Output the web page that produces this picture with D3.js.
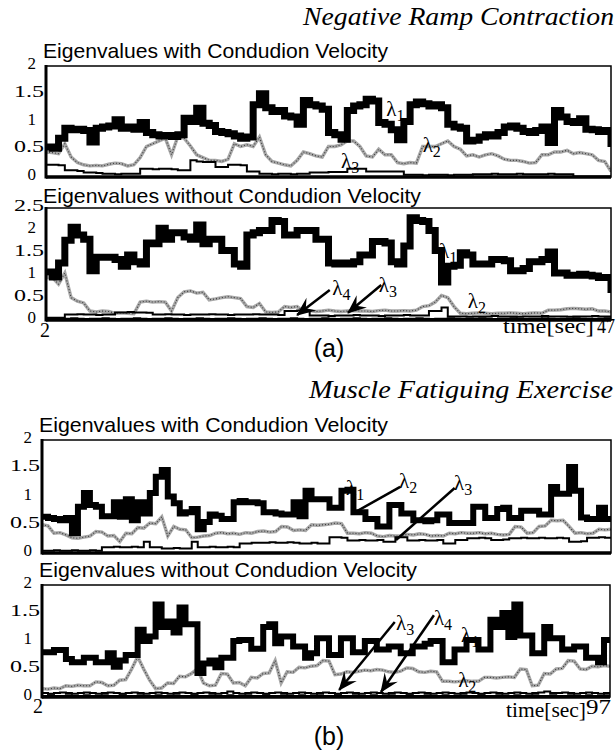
<!DOCTYPE html>
<html>
<head>
<meta charset="utf-8">
<script src="https://cdn.jsdelivr.net/npm/d3@7.9.0/dist/d3.min.js"></script>
<style>
  body { margin: 0; background: #fff; }
  svg { display: block; }
  .serif { font-family: "Liberation Serif", "Times New Roman", serif; }
  .sans { font-family: "Liberation Sans", Arial, sans-serif; }
</style>
</head>
<body>
<svg id="fig" width="616" height="753"></svg>
<script>
// ------------------- Data -------------------
const spanA = [2, 47];
const spanB = [2, 97];
const ticks2 = [0, 0.5, 1, 1.5, 2];
const ticks25 = [0, 0.5, 1, 1.5, 2, 2.5];

// (a) Negative ramp contraction, with conduction velocity
const a1L1 = [0.54,0.52,0.7,0.88,0.85,0.86,0.84,0.63,0.88,0.9,0.92,1.03,0.88,0.9,0.86,0.98,0.8,0.76,0.74,0.75,
  0.73,0.76,1.06,1.0,1.24,0.97,0.93,0.82,0.8,0.78,0.74,0.7,0.72,1.3,1.5,1.25,1.18,1.2,1.1,1.08,
  0.95,1.38,1.3,1.28,1.22,0.8,0.76,0.68,1.2,1.28,1.3,1.4,1.37,0.98,0.95,0.85,0.67,1.0,1.3,1.35,
  1.32,1.28,1.3,1.25,0.95,0.9,0.88,0.65,0.66,0.72,0.76,0.74,0.8,0.9,0.92,0.88,0.82,0.8,0.84,0.9,
  0.62,1.2,1.08,1.0,0.98,1.05,0.86,0.85,0.82,0.84,0.54];
const a1L2 = [0.45,0.44,0.42,0.6,0.36,0.26,0.22,0.2,0.21,0.2,0.23,0.25,0.24,0.2,0.22,0.35,0.55,0.6,0.65,0.7,
  0.4,0.73,0.7,0.56,0.4,0.35,0.3,0.3,0.28,0.32,0.6,0.55,0.58,0.55,0.72,0.4,0.28,0.25,0.22,0.2,
  0.3,0.45,0.42,0.38,0.36,0.55,0.55,0.58,0.65,0.65,0.55,0.38,0.36,0.5,0.4,0.4,0.26,0.24,0.26,0.25,
  0.55,0.55,0.55,0.6,0.65,0.55,0.5,0.38,0.4,0.36,0.4,0.42,0.38,0.32,0.3,0.3,0.28,0.25,0.26,0.4,
  0.4,0.45,0.45,0.48,0.42,0.44,0.42,0.4,0.3,0.28,0.1];
const a1L3 = [0.22,0.22,0.21,0.12,0.12,0.11,0.08,0.08,0.07,0.06,0.06,0.05,0.06,0.06,0.06,0.15,0.15,0.14,0.15,0.15,
  0.14,0.12,0.12,0.3,0.28,0.27,0.27,0.18,0.18,0.22,0.22,0.21,0.1,0.1,0.06,0.06,0.05,0.06,0.06,0.05,
  0.06,0.06,0.08,0.08,0.08,0.09,0.09,0.09,0.15,0.15,0.15,0.1,0.1,0.1,0.1,0.1,0.1,0.04,0.04,0.04,
  0.03,0.04,0.04,0.04,0.03,0.04,0.04,0.04,0.05,0.05,0.05,0.06,0.05,0.05,0.05,0.06,0.05,0.05,0.05,0.05,
  0.06,0.05,0.05,0.05,0.01,0.01,0.01,0.01,0.01,0.01,0.01];

// (a) without conduction velocity
const a2L1 = [1.07,0.96,1.27,1.78,2.07,1.9,1.8,1.1,1.4,1.4,1.4,1.35,1.2,1.45,1.3,1.25,1.72,1.7,2.05,1.8,
  1.95,1.95,1.85,1.8,2.12,1.7,1.8,1.8,1.55,1.55,1.25,1.2,1.9,1.95,2.0,2.0,2.22,2.2,1.9,1.9,
  2.0,2.0,2.0,1.8,1.8,1.27,1.25,1.27,1.25,1.3,1.45,1.45,1.75,1.75,1.72,1.3,1.25,1.65,2.28,2.22,
  2.2,2.0,1.55,0.85,1.2,1.22,1.5,1.45,1.25,1.25,1.25,1.35,1.35,1.32,1.1,1.1,1.15,1.3,1.3,1.35,
  1.52,1.05,1.05,1.0,1.0,1.02,1.0,0.98,0.95,0.95,0.6];
const a2L2 = [0.95,0.95,0.8,1.05,0.5,0.42,0.38,0.2,0.18,0.2,0.19,0.15,0.16,0.15,0.14,0.4,0.42,0.4,0.41,0.4,
  0.2,0.5,0.63,0.65,0.6,0.62,0.45,0.47,0.5,0.52,0.5,0.48,0.3,0.28,0.37,0.18,0.17,0.18,0.3,0.28,
  0.3,0.2,0.21,0.19,0.2,0.22,0.2,0.19,0.2,0.21,0.2,0.2,0.19,0.21,0.22,0.2,0.2,0.21,0.2,0.22,
  0.3,0.32,0.4,0.55,0.5,0.3,0.15,0.14,0.15,0.16,0.15,0.14,0.15,0.15,0.16,0.15,0.14,0.15,0.16,0.15,
  0.22,0.22,0.23,0.25,0.26,0.25,0.24,0.25,0.2,0.2,0.18];
const a2L3 = [0.05,0.05,0.05,0.12,0.12,0.13,0.12,0.12,0.11,0.12,0.12,0.17,0.17,0.18,0.17,0.17,0.16,0.12,0.12,0.13,
  0.12,0.12,0.11,0.12,0.12,0.12,0.13,0.12,0.12,0.11,0.12,0.12,0.12,0.13,0.12,0.12,0.12,0.11,0.2,0.2,
  0.21,0.2,0.1,0.1,0.1,0.09,0.1,0.1,0.1,0.11,0.1,0.1,0.1,0.09,0.1,0.1,0.1,0.11,0.1,0.1,
  0.1,0.2,0.2,0.28,0.08,0.08,0.08,0.07,0.08,0.08,0.08,0.09,0.08,0.08,0.08,0.07,0.08,0.08,0.08,0.09,
  0.08,0.08,0.08,0.07,0.08,0.08,0.08,0.09,0.08,0.08,0.08];
const a2L4 = [0.03,0.02,0.03,0.03,0.04,0.03,0.02,0.03,0.03,0.04,0.03,0.02,0.03,0.03,0.04,0.03,0.02,0.03,0.03,0.04,
  0.03,0.02,0.03,0.03,0.04,0.03,0.02,0.03,0.03,0.04,0.03,0.02,0.03,0.03,0.04,0.03,0.02,0.03,0.03,0.04,
  0.03,0.02,0.03,0.03,0.04,0.03,0.02,0.03,0.03,0.04,0.03,0.02,0.03,0.03,0.04,0.03,0.02,0.03,0.03,0.04,
  0.03,0.02,0.03,0.03,0.04,0.03,0.02,0.03,0.03,0.04,0.03,0.02,0.03,0.03,0.04,0.03,0.02,0.03,0.03,0.04,
  0.03,0.02,0.03,0.03,0.04,0.03,0.02,0.03,0.03,0.04,0.03];

// (b) Muscle fatiguing exercise, with conduction velocity
const b1L1 = [0.64,0.62,0.6,0.58,0.62,0.35,0.82,1.06,0.85,0.82,0.65,0.65,0.9,0.64,0.95,0.58,0.9,0.7,1.06,1.35,
  1.47,1.0,0.88,0.7,0.72,0.78,0.42,0.55,0.68,0.66,0.6,0.6,0.9,0.92,0.9,0.9,0.88,0.72,0.72,0.7,
  0.68,0.68,0.9,0.65,1.1,0.95,0.95,0.95,0.8,0.8,1.1,1.12,0.72,0.72,0.6,0.6,0.47,0.47,0.85,0.85,
  0.7,0.7,0.58,0.58,0.56,0.58,0.68,0.68,0.53,0.53,0.53,0.53,0.82,0.82,0.62,0.62,0.78,0.8,0.62,0.62,
  0.75,0.75,0.75,0.68,0.68,1.17,1.05,1.05,1.52,1.1,0.63,0.6,0.6,0.8,0.6,0.6];
const b1L2 = [0.5,0.48,0.35,0.36,0.32,0.27,0.26,0.28,0.3,0.38,0.37,0.3,0.31,0.2,0.35,0.34,0.45,0.44,0.53,0.52,
  0.64,0.3,0.47,0.42,0.41,0.27,0.28,0.3,0.31,0.35,0.36,0.34,0.35,0.33,0.36,0.35,0.38,0.39,0.37,0.38,
  0.47,0.46,0.4,0.41,0.4,0.5,0.49,0.5,0.51,0.53,0.52,0.35,0.35,0.34,0.36,0.35,0.3,0.29,0.31,0.3,
  0.3,0.33,0.32,0.34,0.33,0.3,0.31,0.3,0.35,0.34,0.36,0.35,0.35,0.36,0.34,0.35,0.33,0.32,0.33,0.47,
  0.46,0.35,0.36,0.47,0.48,0.58,0.57,0.58,0.47,0.35,0.36,0.34,0.35,0.42,0.41,0.42];
const b1L3 = [0.04,0.04,0.05,0.04,0.04,0.05,0.04,0.04,0.05,0.04,0.1,0.1,0.11,0.1,0.1,0.11,0.1,0.2,0.1,0.1,
  0.08,0.08,0.09,0.08,0.08,0.2,0.1,0.1,0.11,0.1,0.1,0.11,0.1,0.17,0.17,0.18,0.18,0.18,0.19,0.18,
  0.18,0.19,0.18,0.17,0.17,0.18,0.17,0.17,0.28,0.28,0.27,0.22,0.22,0.23,0.22,0.22,0.23,0.2,0.2,0.28,
  0.28,0.22,0.22,0.23,0.22,0.22,0.23,0.17,0.17,0.23,0.23,0.26,0.26,0.27,0.26,0.23,0.23,0.24,0.26,0.26,
  0.27,0.26,0.26,0.27,0.26,0.26,0.27,0.26,0.2,0.2,0.21,0.27,0.27,0.28,0.27,0.27];

// (b) without conduction velocity
const b2L1 = [0.8,0.8,0.84,0.84,0.68,0.62,0.62,0.7,0.7,0.62,0.62,0.78,0.54,0.65,0.75,0.75,1.2,1.0,1.08,1.65,
  1.25,1.35,1.15,1.6,1.3,1.3,0.43,0.6,0.65,0.53,0.7,0.7,1.0,1.02,1.02,0.86,0.86,1.25,1.3,0.96,
  1.08,1.08,0.9,0.9,0.7,0.78,1.05,1.05,0.75,0.75,1.05,1.05,0.8,0.8,1.0,1.0,0.85,0.85,0.9,0.9,
  0.78,0.78,0.9,0.9,0.95,1.0,1.0,0.62,0.62,0.85,0.85,1.02,1.02,0.85,0.85,1.38,1.25,1.5,1.07,1.65,
  1.1,1.1,0.78,0.78,1.25,1.05,1.05,0.85,0.85,0.9,0.9,0.7,0.7,0.62,1.02,1.02];
const b2L2 = [0.15,0.14,0.16,0.15,0.2,0.19,0.21,0.2,0.2,0.27,0.26,0.2,0.21,0.3,0.31,0.5,0.72,0.5,0.3,0.15,
  0.16,0.25,0.24,0.37,0.36,0.42,0.5,0.25,0.2,0.21,0.42,0.41,0.25,0.26,0.2,0.35,0.34,0.42,0.43,0.65,
  0.25,0.45,0.44,0.53,0.52,0.55,0.56,0.65,0.64,0.4,0.41,0.45,0.44,0.46,0.48,0.47,0.49,0.48,0.45,0.44,
  0.46,0.52,0.51,0.45,0.44,0.46,0.45,0.28,0.28,0.27,0.28,0.29,0.28,0.28,0.35,0.35,0.34,0.35,0.36,0.35,
  0.5,0.49,0.2,0.21,0.42,0.41,0.5,0.51,0.65,0.64,0.5,0.49,0.55,0.54,0.56,0.55];
const b2L3 = [0.07,0.06,0.07,0.08,0.07,0.06,0.07,0.08,0.07,0.06,0.07,0.08,0.07,0.06,0.07,0.08,0.07,0.06,0.07,0.08,
  0.07,0.06,0.07,0.08,0.07,0.06,0.07,0.08,0.07,0.06,0.07,0.1,0.07,0.06,0.07,0.08,0.07,0.06,0.07,0.08,
  0.07,0.06,0.07,0.08,0.07,0.06,0.07,0.08,0.07,0.06,0.07,0.08,0.07,0.06,0.07,0.08,0.07,0.06,0.07,0.08,
  0.07,0.06,0.07,0.08,0.07,0.06,0.07,0.08,0.07,0.06,0.07,0.08,0.07,0.06,0.07,0.08,0.07,0.06,0.07,0.08,
  0.07,0.06,0.07,0.08,0.1,0.07,0.07,0.08,0.07,0.06,0.07,0.08,0.07,0.06,0.07,0.08];
const b2L4 = [0.02,0.03,0.02,0.02,0.03,0.02,0.02,0.03,0.02,0.02,0.03,0.02,0.02,0.03,0.02,0.02,0.03,0.02,0.02,0.03,
  0.02,0.02,0.03,0.02,0.02,0.03,0.02,0.02,0.03,0.02,0.02,0.03,0.02,0.02,0.03,0.02,0.02,0.03,0.02,0.02,
  0.03,0.02,0.02,0.03,0.02,0.02,0.03,0.02,0.02,0.03,0.02,0.02,0.03,0.02,0.02,0.03,0.02,0.02,0.03,0.02,
  0.02,0.03,0.02,0.02,0.03,0.02,0.02,0.03,0.02,0.02,0.03,0.02,0.02,0.03,0.02,0.02,0.03,0.02,0.02,0.03,
  0.02,0.02,0.03,0.02,0.02,0.03,0.02,0.02,0.03,0.02,0.02,0.03,0.02,0.02,0.03,0.02];

// annotations, in data units (time, eigenvalue)
const a1Labels = [{t: 29.1, v: 1.1, n: '1'}, {t: 32.0, v: 0.45, n: '2'}, {t: 25.5, v: 0.16, n: '3'}];
const a2Labels = [{t: 33.3, v: 1.38, n: '1'}, {t: 24.8, v: 0.56, n: '4'}, {t: 28.5, v: 0.63, n: '3'}, {t: 35.6, v: 0.27, n: '2'}];
const a2Arrows = [{t0: 24.6, v0: 0.67, t1: 22.0, v1: 0.11}, {t0: 28.7, v0: 0.78, t1: 26.05, v1: 0.16}];
const b1Labels = [{t: 52.75, v: 1.03, n: '1'}, {t: 61.6, v: 1.15, n: '2'}, {t: 70.8, v: 1.12, n: '3'}];
const b1Leaders = [{t0: 61.8, v0: 1.17, t1: 54.4, v1: 0.73}, {t0: 70.9, v0: 1.15, t1: 61.1, v1: 0.23}];
const b2Labels = [{t: 61.2, v: 1.2, n: '3'}, {t: 67.55, v: 1.29, n: '4'}, {t: 72.1, v: 0.98, n: '1'}, {t: 71.6, v: 0.18, n: '2'}];
const b2Arrows = [{t0: 61.0, v0: 1.34, t1: 51.7, v1: 0.125}, {t0: 67.55, v0: 1.46, t1: 58.7, v1: 0.09}];

// ------------------- Panels -------------------
const panels = [
  {id: 'a1', box: {left: 46, right: 611, top: 66, bottom: 177}, span: spanA, yMax: 2, ticks: ticks2,
   title: 'Eigenvalues with Condudion Velocity', titleW: 345, titleY: 58, thick: 7,
   series: [[a1L2, 'gray'], [a1L3, 'thin'], [a1L1, 'thick']], labels: a1Labels, arrows: [], leaders: []},
  {id: 'a2', box: {left: 46, right: 611, top: 208, bottom: 320}, span: spanA, yMax: 2.5, ticks: ticks25,
   title: 'Eigenvalues without Condudion Velocity', titleW: 378, titleY: 203, thick: 7,
   series: [[a2L2, 'gray'], [a2L3, 'thin'], [a2L4, 'thin'], [a2L1, 'thick']], labels: a2Labels, arrows: a2Arrows, leaders: []},
  {id: 'b1', box: {left: 42, right: 611, top: 440, bottom: 553}, span: spanB, yMax: 2, ticks: ticks2,
   title: 'Eigenvalues with Condudion Velocity', titleW: 349, titleY: 432, thick: 6,
   series: [[b1L2, 'gray'], [b1L3, 'thin'], [b1L1, 'thick']], labels: b1Labels, arrows: [], leaders: b1Leaders},
  {id: 'b2', box: {left: 42, right: 610, top: 585, bottom: 697}, span: spanB, yMax: 2, ticks: ticks2,
   title: 'Eigenvalues without Condudion Velocity', titleW: 378, titleY: 577, thick: 6,
   series: [[b2L2, 'gray'], [b2L3, 'thin'], [b2L4, 'thin'], [b2L1, 'thick']], labels: b2Labels, arrows: b2Arrows, leaders: []}
];

const svg = d3.select('#fig');
const defs = svg.append('defs');

defs.append('marker')
  .attr('id', 'head')
  .attr('markerUnits', 'userSpaceOnUse')
  .attr('viewBox', '-19 -9 21 18')
  .attr('markerWidth', 21).attr('markerHeight', 18)
  .attr('refX', 0).attr('refY', 0)
  .attr('orient', 'auto')
  .append('path')
  .attr('d', 'M1,0 L-18,-8 L-11,0 L-18,8 Z')
  .attr('fill', '#000');

function drawPanel(p) {
  const b = p.box;
  const x = d3.scaleLinear().domain(p.span).range([b.left, b.right]);
  const y = d3.scaleLinear().domain([0, p.yMax]).range([b.bottom, b.top]);
  const g = svg.append('g').attr('class', 'panel-' + p.id);

  defs.append('clipPath').attr('id', 'clip-' + p.id)
    .append('rect')
    .attr('x', b.left).attr('y', b.top - 2)
    .attr('width', b.right - b.left).attr('height', b.bottom - b.top + 2);

  // panel caption
  g.append('text')
    .attr('class', 'sans')
    .attr('x', b.left - 3).attr('y', p.titleY)
    .attr('font-size', 21)
    .attr('textLength', p.titleW).attr('lengthAdjust', 'spacingAndGlyphs')
    .text(p.title);

  // series
  const plot = g.append('g').attr('clip-path', `url(#clip-${p.id})`);
  p.series.forEach(([vals, kind]) => {
    const idx = d3.scaleLinear().domain([0, vals.length - 1]).range(p.span);
    const line = d3.line()
      .x((d, i) => x(idx(i)))
      .y(d => y(d))
      .curve(kind === 'gray' ? d3.curveLinear : d3.curveStepAfter);
    if (kind === 'gray') {
      plot.append('path').attr('d', line(vals))
        .attr('fill', 'none').attr('stroke', '#a8a8a8').attr('stroke-width', 3.4);
      plot.append('path').attr('d', line(vals))
        .attr('fill', 'none').attr('stroke', '#3a3a3a').attr('stroke-width', 1.1)
        .attr('stroke-dasharray', '1 2');
    } else {
      plot.append('path').attr('d', line(vals))
        .attr('fill', 'none').attr('stroke', '#000')
        .attr('stroke-width', kind === 'thick' ? p.thick : 2)
        .attr('stroke-linejoin', 'miter');
    }
  });

  // frame
  g.append('rect')
    .attr('x', b.left).attr('y', b.top)
    .attr('width', b.right - b.left).attr('height', b.bottom - b.top)
    .attr('fill', 'none').attr('stroke', '#000').attr('stroke-width', 1.5);
  g.append('line')
    .attr('x1', b.left).attr('x2', b.left).attr('y1', b.top - 1).attr('y2', b.bottom + 1.5)
    .attr('stroke', '#000').attr('stroke-width', 3);
  g.append('line')
    .attr('x1', b.left).attr('x2', b.right).attr('y1', b.bottom).attr('y2', b.bottom)
    .attr('stroke', '#000').attr('stroke-width', 3.5);

  // y tick labels
  g.selectAll('text.ytick')
    .data(p.ticks)
    .join('text')
    .attr('class', 'ytick serif')
    .attr('text-anchor', 'end')
    .attr('font-size', 17)
    .attr('x', d => Number.isInteger(d) ? b.left - 10 : b.left - 2)
    .attr('y', d => y(d) + 3)
    .each(function (d) {
      if (!Number.isInteger(d)) d3.select(this).attr('textLength', 30).attr('lengthAdjust', 'spacingAndGlyphs');
    })
    .text(d => String(d));

  // lambda labels
  p.labels.forEach(l => {
    const t = g.append('text').attr('class', 'serif')
      .attr('x', x(l.t)).attr('y', y(l.v));
    t.append('tspan').attr('font-size', 21).text('\u03bb');
    t.append('tspan').attr('font-size', 16).attr('dy', 5).text(l.n);
  });

  p.leaders.forEach(a => {
    g.append('line')
      .attr('x1', x(a.t0)).attr('y1', y(a.v0)).attr('x2', x(a.t1)).attr('y2', y(a.v1))
      .attr('stroke', '#000').attr('stroke-width', 2.5);
  });

  p.arrows.forEach(a => {
    g.append('line')
      .attr('x1', x(a.t0)).attr('y1', y(a.v0)).attr('x2', x(a.t1)).attr('y2', y(a.v1))
      .attr('stroke', '#000').attr('stroke-width', 2.5)
      .attr('marker-end', 'url(#head)');
  });

  return x;
}

panels.forEach(drawPanel);

// ------------------- Titles and axis texts -------------------
svg.append('text').attr('class', 'serif')
  .attr('x', 614).attr('y', 25).attr('text-anchor', 'end')
  .attr('font-size', 25).attr('font-style', 'italic')
  .attr('textLength', 311).attr('lengthAdjust', 'spacingAndGlyphs')
  .text('Negative Ramp Contraction');

svg.append('text').attr('class', 'serif')
  .attr('x', 613).attr('y', 398).attr('text-anchor', 'end')
  .attr('font-size', 25).attr('font-style', 'italic')
  .attr('textLength', 304).attr('lengthAdjust', 'spacingAndGlyphs')
  .text('Muscle Fatiguing Exercise');

// x-axis ends
svg.append('text').attr('class', 'serif').attr('x', 40).attr('y', 337).attr('font-size', 20).text(String(spanA[0]));
svg.append('text').attr('class', 'serif').attr('x', 503).attr('y', 333).attr('font-size', 20)
  .attr('textLength', 91).attr('lengthAdjust', 'spacingAndGlyphs').text('time[sec]');
svg.append('text').attr('class', 'serif').attr('x', 597).attr('y', 333).attr('font-size', 20)
  .attr('textLength', 18).attr('lengthAdjust', 'spacingAndGlyphs').text(String(spanA[1]));

svg.append('text').attr('class', 'serif').attr('x', 33).attr('y', 713).attr('font-size', 20).text(String(spanB[0]));
svg.append('text').attr('class', 'serif').attr('x', 506).attr('y', 717).attr('font-size', 20)
  .attr('textLength', 80).attr('lengthAdjust', 'spacingAndGlyphs').text('time[sec]');
svg.append('text').attr('class', 'serif').attr('x', 586).attr('y', 714).attr('font-size', 20)
  .attr('textLength', 25).attr('lengthAdjust', 'spacingAndGlyphs').text(String(spanB[1]));

// sub-figure letters
svg.append('text').attr('class', 'sans').attr('x', 329).attr('y', 357)
  .attr('text-anchor', 'middle').attr('font-size', 25).text('(a)');
svg.append('text').attr('class', 'sans').attr('x', 329).attr('y', 745)
  .attr('text-anchor', 'middle').attr('font-size', 25).text('(b)');
</script>
</body>
</html>
